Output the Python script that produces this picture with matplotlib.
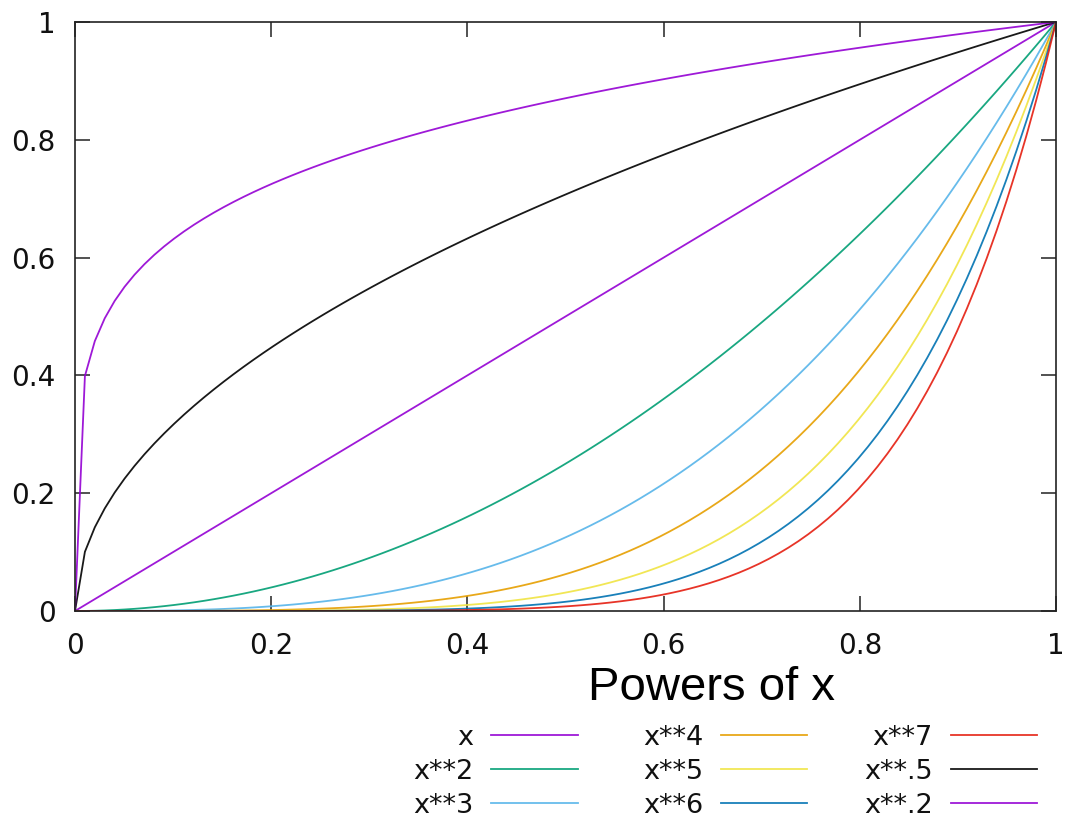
import matplotlib
matplotlib.use('Agg')
import matplotlib.pyplot as plt
from matplotlib.lines import Line2D
import numpy as np

# series: exponent, label, colour (gnuplot default palette)
powers = [1, 2, 3, 4, 5, 6, 7, 0.5, 0.2]
labels = ['x', 'x**2', 'x**3', 'x**4', 'x**5', 'x**6', 'x**7', 'x**.5', 'x**.2']
colors = ['#9400D3', '#009E73', '#56B4E9', '#E69F00', '#F0E442',
          '#0072B2', '#E51E10', '#000000', '#9400D3']
ticks = [0, 0.2, 0.4, 0.6, 0.8, 1]
tick_labels = ['0', '0.2', '0.4', '0.6', '0.8', '1']

# gnuplot samples 100 points by default
x = np.linspace(0, 1, 100)

W, H = 1070, 817
fig = plt.figure(figsize=(W / 100, H / 100), dpi=100)
ax = fig.add_axes([75 / W, 1 - 611 / H, (1056 - 75) / W, (611 - 22) / H])

for p, c in zip(powers, colors):
    ax.plot(x, x ** p, color=c, linewidth=1.3, alpha=0.9)

ax.set_xlim(0, 1)
ax.set_ylim(0, 1)
ax.set_xticks(ticks)
ax.set_xticklabels(tick_labels)
ax.set_yticks(ticks)
ax.set_yticklabels(tick_labels)
ax.tick_params(direction='in', length=10.5, width=1.1, top=True, right=True,
               labelsize=20, color='#222222', labelcolor='#111111')
ax.tick_params(axis='y', pad=14)
ax.tick_params(axis='x', pad=15)
for s in ax.spines.values():
    s.set_linewidth(1.2)
    s.set_color('#222222')

def px(xp, yp):
    return xp / W, 1 - yp / H

fig.text(*px(711, 688), 'Powers of x', fontsize=34, family='Liberation Sans',
         ha='center', va='center')

# legend: 3 columns, text right-aligned before line sample
text_right = [473, 703, 933]
line_start = [491, 721, 951]
line_end = [578, 807, 1037]
rows = [735, 769, 803]
for i, (lab, c) in enumerate(zip(labels, colors)):
    col, row = divmod(i, 3)
    y = rows[row]
    fig.text(*px(text_right[col], y), lab, fontsize=19.5, ha='right',
             va='center_baseline', color='#111111')
    x0, y0 = px(line_start[col], y)
    x1, _ = px(line_end[col], y)
    fig.add_artist(Line2D([x0, x1], [y0, y0], color=c, linewidth=1.3, alpha=0.9,
                          transform=fig.transFigure))

fig.savefig('out.png', dpi=100)
